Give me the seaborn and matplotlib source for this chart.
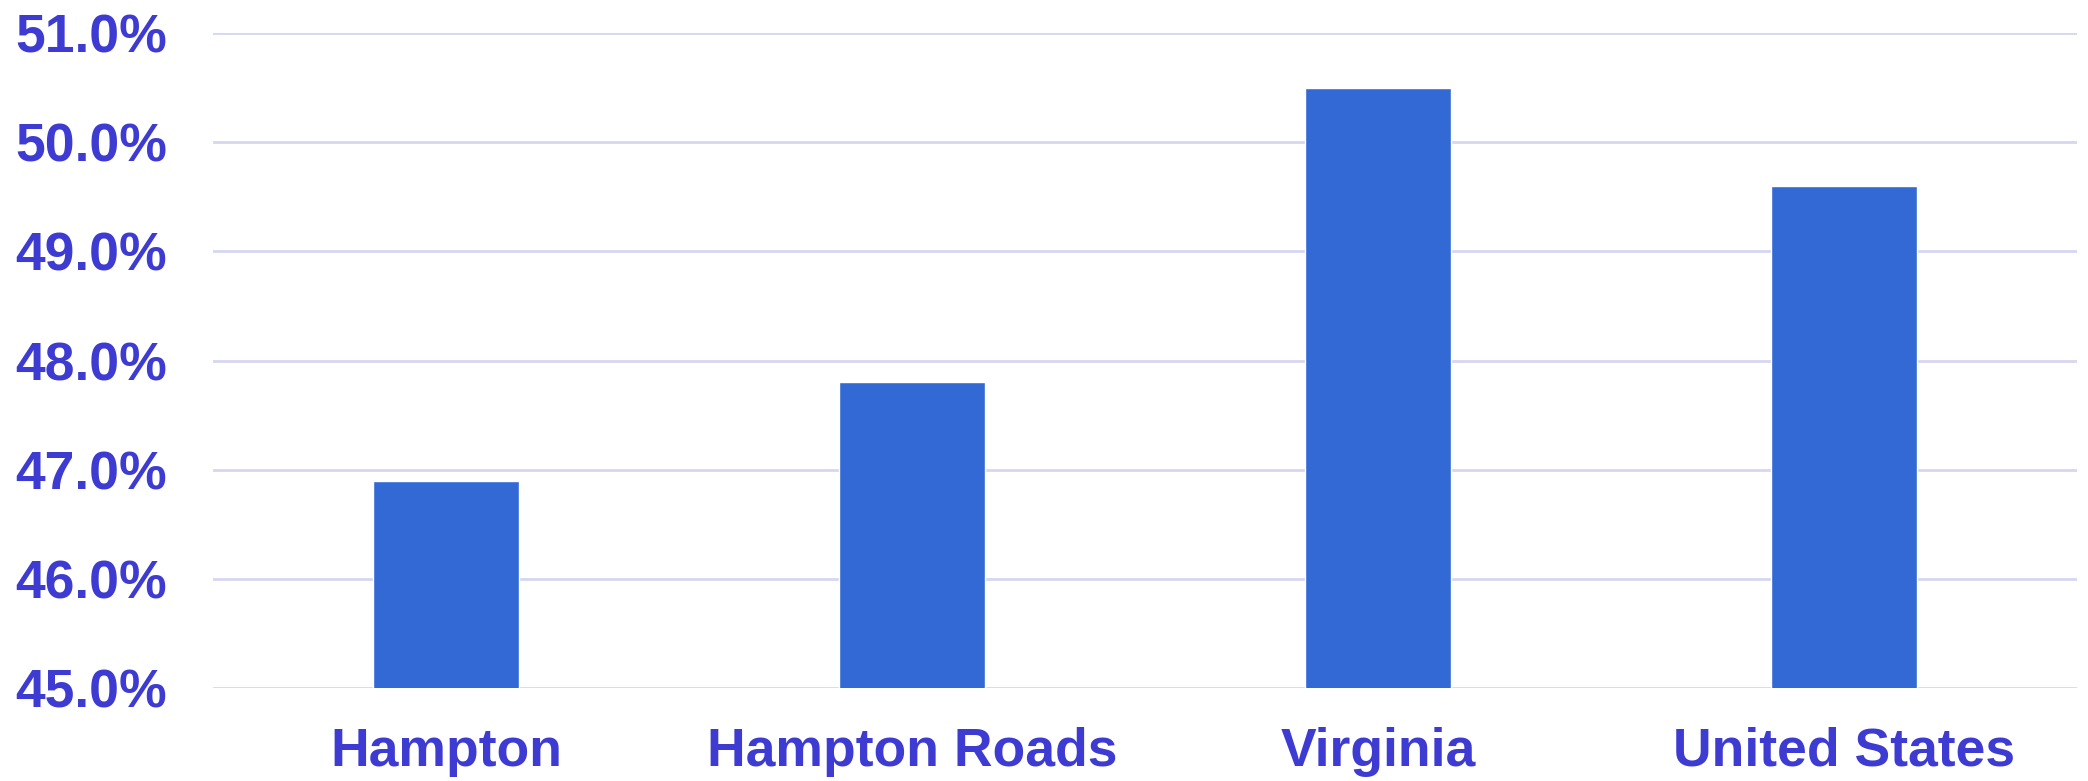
import matplotlib
matplotlib.use("Agg")
import matplotlib.pyplot as plt
import seaborn as sns
import pandas as pd
from matplotlib.ticker import FuncFormatter

categories = ["Hampton", "Hampton Roads", "Virginia", "United States"]
values = [46.9, 47.8, 50.5, 49.6]
yticks = [45, 46, 47, 48, 49, 50, 51]

sns.set_theme(style="white")
plt.rcParams['font.family'] = ['Liberation Sans', 'DejaVu Sans']

df = pd.DataFrame({"region": categories, "value": values})

fig = plt.figure(figsize=(20.88, 7.81), dpi=100)
ax = fig.add_axes([0.102, 0.119, 0.8927, 0.8388])

sns.barplot(data=df, x="region", y="value", color="#3369D4", saturation=1,
            width=0.313, ax=ax, zorder=3)

text_color = "#3D3BD2"
ax.set_ylim(45, 51)
ax.set_xlim(-0.5, 3.5)
ax.set_yticks(yticks)
ax.yaxis.set_major_formatter(FuncFormatter(lambda v, p: f"{v:.1f}%"))
ax.grid(axis="y", color="#D6D6F2", linewidth=2, zorder=0)
ax.grid(axis="x", visible=False)
for s in ax.spines.values():
    s.set_visible(False)
ax.set_xlabel("")
ax.set_ylabel("")
ax.tick_params(axis="y", length=0, pad=33, labelsize=38.5, labelcolor=text_color)
ax.tick_params(axis="x", length=0, pad=28, labelsize=38.5, labelcolor=text_color)
for lab in ax.get_xticklabels() + ax.get_yticklabels():
    lab.set_fontweight("bold")

fig.savefig("out.png", dpi=100)
